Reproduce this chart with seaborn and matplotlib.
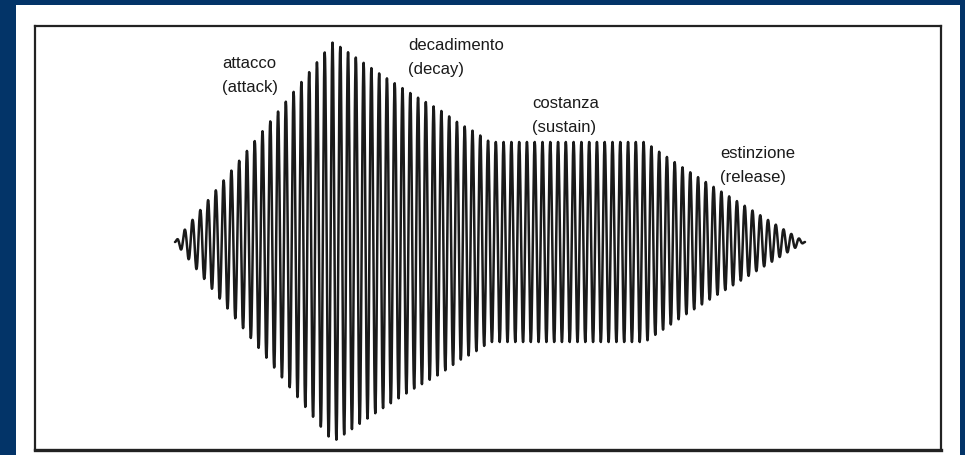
import matplotlib
matplotlib.use('Agg')
import numpy as np
import pandas as pd
import seaborn as sns
from matplotlib import pyplot as plt
from matplotlib.patches import Rectangle

# envelope breakpoints (time units, amplitude 0..1)
env_t = [140, 298, 345, 380, 405, 425, 440, 455, 610, 620, 650, 682, 715, 748, 770]
env_a = [0.0, 1.0, 0.84, 0.73, 0.66, 0.59, 0.55, 0.50, 0.50, 0.465, 0.365, 0.265, 0.165, 0.065, 0.0]
n_cycles = 81

# phase labels
labels = ['attacco\n(attack)', 'decadimento\n(decay)', 'costanza\n(sustain)', 'estinzione\n(release)']
label_t = [187, 373, 497, 685]
label_a = [0.935, 1.025, 0.735, 0.485]

navy = '#033468'

sns.set_style('white')
plt.rcParams['font.family'] = ['Liberation Sans', 'DejaVu Sans']

# carrier drawn under the envelope
t = np.linspace(env_t[0], env_t[-1], n_cycles * 24 + 1)
env = np.interp(t, env_t, env_a)
wave = env * np.sin(2 * np.pi * n_cycles * (t - env_t[0]) / (env_t[-1] - env_t[0]))
df = pd.DataFrame({'time': t, 'amp': wave})

fig = plt.figure(figsize=(9.65, 4.56), dpi=100, facecolor=navy)
fig.patches.append(Rectangle((16 / 965, 0), (960 - 16) / 965, (456 - 6) / 456,
                             transform=fig.transFigure, facecolor='white',
                             edgecolor='none', zorder=-10))
ax = fig.add_axes([35 / 965, 5 / 456, 906 / 965, 424 / 456])
ax.set_facecolor('white')
ax.set_zorder(5)

sns.lineplot(data=df, x='time', y='amp', ax=ax, sort=False, estimator=None,
             color='#1a1a1a', linewidth=1.8)

for txt, x, y in zip(labels, label_t, label_a):
    ax.text(x, y, txt, fontsize=12, color='#1a1a1a', va='top', ha='left',
            linespacing=1.75)

ax.set_xlim(0, 906)
ax.set_ylim(-1.04, 1.08)
ax.set_xticks([])
ax.set_yticks([])
ax.set_xlabel('')
ax.set_ylabel('')
for s in ax.spines.values():
    s.set_visible(True)
    s.set_color('#222222')
    s.set_linewidth(1.6)
ax.spines['bottom'].set_linewidth(2.4)

fig.savefig('out.png', dpi=100, facecolor=navy)
